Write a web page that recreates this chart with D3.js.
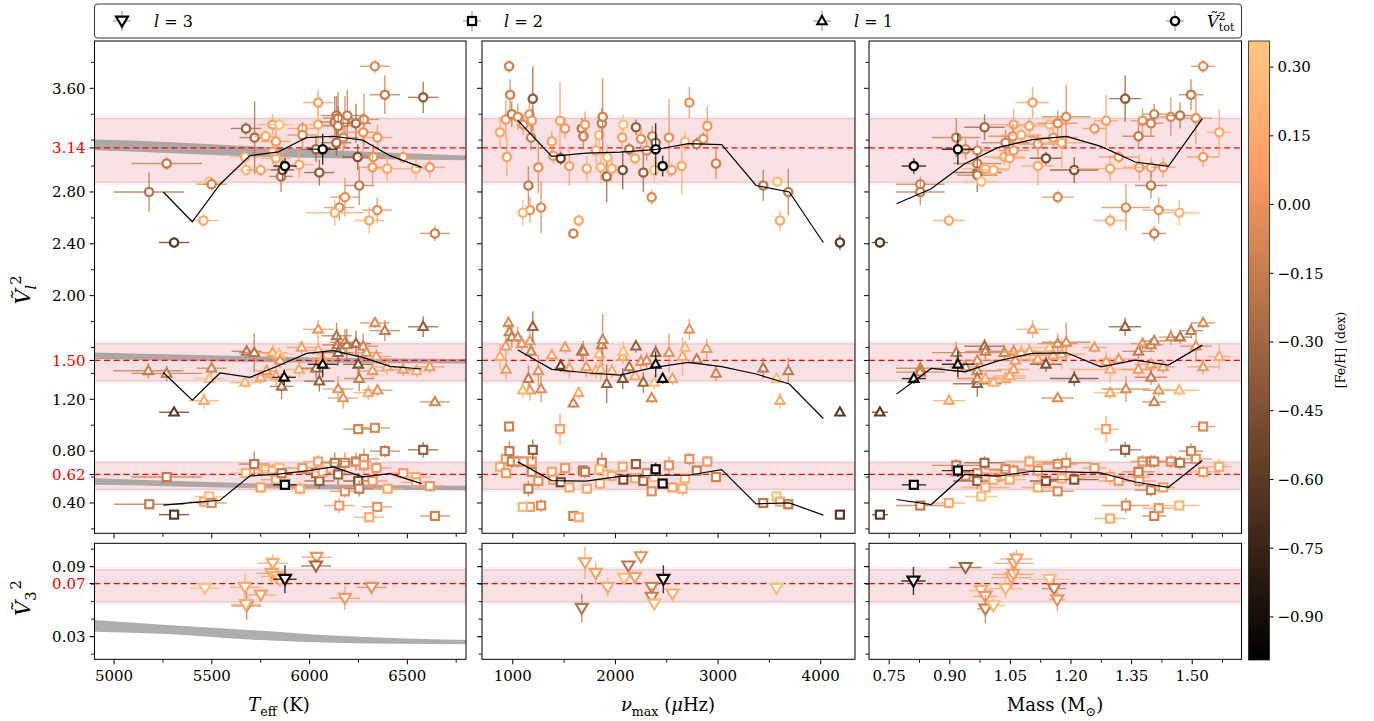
<!DOCTYPE html>
<html><head><meta charset="utf-8">
<script src="https://cdn.jsdelivr.net/npm/d3@7"></script>
<style>body{margin:0;background:#fff}svg{display:block;background:#fff}</style>
</head><body><svg id="chart" width="1374" height="721"></svg>
<script>
// ---------------- DATA ----------------
// rows: [x, V^2, xerr, yerr, [Fe/H]]
const teffTot = [
[5179,2.80,180,0.15,-0.2],[5269,3.02,180,0.05,-0.15],[5307,2.41,77,0.04,-0.6],[5457,2.58,77,0.05,0.15],
[5487,2.88,77,0.03,0.3],[5499,2.86,77,0.05,-0.1],[5670,3.07,77,0.05,0.2],[5675,3.29,77,0.05,-0.3],
[5675,2.97,77,0.05,0.25],[5719,3.22,77,0.28,-0.25],[5750,2.97,77,0.05,0.1],[5775,3.23,60,0.05,0.15],
[5811,3.32,77,0.08,0.1],[5845,3.32,77,0.05,0.3],[5828,3.19,77,0.1,0.05],[5811,3.11,77,0.1,0.1],
[5828,3.06,77,0.08,0.15],[5854,2.92,60,0.12,-0.2],[5862,2.97,60,0.08,-0.5],[5947,3.01,77,0.1,0.15],
[5964,3.29,77,0.05,0.05],[5964,3.24,77,0.1,-0.05],[6044,3.49,77,0.1,0.1],[6044,3.32,77,0.15,0.15],
[6033,3.13,77,0.1,-0.3],[6050,2.95,77,0.1,-0.35],[6129,3.34,77,0.2,-0.2],[6138,3.39,77,0.15,-0.2],
[6146,3.37,77,0.2,-0.15],[6146,3.31,77,0.15,-0.2],[6137,3.18,77,0.1,-0.3],[6181,3.34,77,0.2,-0.1],
[6193,3.39,77,0.2,-0.15],[6172,3.22,77,0.15,-0.05],[6237,3.33,77,0.15,-0.3],[6278,3.36,77,0.2,-0.1],
[6274,3.26,77,0.15,0.0],[6246,3.07,77,0.1,-0.45],[6254,2.85,77,0.15,-0.15],[6326,3.07,77,0.1,0.0],
[6322,2.99,77,0.15,0.05],[6347,3.22,77,0.1,0.05],[6334,3.77,77,0.05,-0.05],[6385,3.55,77,0.15,-0.15],
[6181,2.76,77,0.15,0.0],[6152,2.68,77,0.1,-0.05],[6129,2.64,150,0.1,0.2],[6346,2.66,77,0.1,0.0],
[6305,2.58,77,0.1,0.15],[6397,2.98,77,0.1,0.15],[6479,3.07,77,0.05,0.05],[6544,2.98,77,0.08,0.2],
[6615,2.99,77,0.08,0.05],[6581,3.53,77,0.12,-0.35],[6641,2.48,77,0.06,-0.1],
[5874,3.00,60,0.06,-0.95],[6067,3.13,77,0.12,-0.95]];
const teffL1 = [
[5175,1.42,180,0.06,-0.15],[5269,1.40,180,0.06,-0.15],[5307,1.10,77,0.02,-0.6],[5460,1.19,77,0.06,0.15],
[5487,1.36,77,0.03,0.3],[5499,1.44,77,0.05,-0.1],[5670,1.33,77,0.04,0.2],[5678,1.57,77,0.05,-0.2],
[5717,1.56,77,0.15,-0.2],[5750,1.37,77,0.05,0.1],[5780,1.42,60,0.05,0.05],[5811,1.56,77,0.06,0.1],
[5845,1.55,77,0.04,0.3],[5828,1.38,77,0.08,0.1],[5849,1.50,77,0.06,0.0],[5857,1.30,60,0.1,-0.25],
[5947,1.43,77,0.06,0.15],[5959,1.60,77,0.05,0.05],[6044,1.74,77,0.07,0.05],[6044,1.58,77,0.1,0.15],
[6033,1.44,77,0.08,-0.3],[6050,1.34,77,0.08,-0.35],[6067,1.51,77,0.06,0.1],[6138,1.69,77,0.1,-0.2],
[6142,1.62,77,0.12,-0.2],[6146,1.56,77,0.1,-0.3],[6181,1.64,77,0.1,-0.1],[6190,1.62,77,0.12,-0.15],
[6146,1.28,77,0.1,0.0],[6172,1.21,77,0.08,0.0],[6237,1.63,77,0.1,-0.3],[6274,1.61,77,0.1,-0.1],
[6249,1.47,77,0.08,-0.45],[6254,1.36,77,0.1,-0.15],[6291,1.56,77,0.08,0.0],[6300,1.25,77,0.06,0.15],
[6322,1.42,77,0.06,0.05],[6334,1.79,77,0.04,-0.05],[6342,1.53,77,0.06,0.05],[6347,1.27,77,0.05,0.0],
[6385,1.73,77,0.08,-0.15],[6397,1.45,77,0.06,0.15],[6479,1.43,77,0.05,0.05],[6547,1.42,77,0.05,0.2],
[6581,1.76,77,0.08,-0.35],[6615,1.45,77,0.05,0.05],[6641,1.18,77,0.03,-0.1],
[5870,1.37,60,0.06,-0.95],[6067,1.47,77,0.1,-0.95]];
const teffL2 = [
[5180,0.39,180,0.03,-0.15],[5269,0.60,180,0.03,-0.15],[5307,0.31,77,0.02,-0.6],[5460,0.41,77,0.03,0.15],
[5487,0.45,77,0.02,0.3],[5499,0.40,77,0.03,-0.05],[5675,0.63,77,0.04,0.2],[5717,0.70,77,0.1,-0.2],
[5750,0.52,77,0.03,0.1],[5775,0.66,60,0.04,0.15],[5811,0.65,77,0.05,0.1],[5845,0.67,77,0.03,0.3],
[5828,0.58,77,0.05,0.05],[5857,0.63,60,0.04,-0.15],[5951,0.51,77,0.05,0.15],[5964,0.67,77,0.04,0.05],
[6044,0.72,77,0.05,0.1],[6050,0.57,77,0.06,-0.35],[6033,0.63,77,0.05,-0.25],[6067,0.64,77,0.04,0.1],
[6129,0.71,77,0.08,-0.2],[6146,0.62,77,0.08,-0.3],[6152,0.38,77,0.06,0.05],[6181,0.71,77,0.08,-0.1],
[6181,0.49,77,0.05,0.0],[6237,0.72,77,0.07,-0.15],[6249,0.57,77,0.06,-0.45],[6254,0.51,77,0.06,-0.15],
[6249,0.97,77,0.04,-0.1],[6278,0.74,77,0.08,-0.1],[6278,0.69,77,0.06,0.05],[6322,0.57,77,0.05,0.05],
[6334,0.98,77,0.03,-0.05],[6342,0.67,77,0.05,0.05],[6346,0.37,77,0.04,0.0],[6305,0.29,77,0.03,0.15],
[6385,0.80,77,0.05,-0.15],[6399,0.51,77,0.04,0.15],[6479,0.63,77,0.04,0.05],[6544,0.60,77,0.04,0.2],
[6544,0.56,77,0.04,0.15],[6581,0.81,77,0.06,-0.35],[6615,0.53,77,0.04,0.05],[6641,0.30,77,0.02,-0.1],
[5874,0.54,60,0.03,-0.95]];
const teffL3 = [
[5465,0.0715,77,0.006,0.3],[5670,0.0723,77,0.012,0.15],[5678,0.0563,77,0.012,-0.1],[5675,0.0575,77,0.005,0.2],
[5750,0.0657,77,0.004,0.1],[5811,0.0929,77,0.008,0.15],[5806,0.0843,77,0.008,0.1],[5830,0.0815,77,0.006,0.15],
[5849,0.0786,60,0.006,0.25],[6036,0.0980,77,0.004,0.05],[6033,0.0906,77,0.006,-0.3],[6181,0.0629,77,0.010,0.05],
[6317,0.0723,77,0.005,0.0],[5874,0.0792,60,0.012,-0.95]];

const numaxTot = [
[876,3.26,20,0.12,0.15],[932,3.36,20,0.15,0.05],[942,3.07,20,0.15,0.1],[964,3.77,20,0.05,-0.1],
[974,3.55,20,0.12,-0.1],[990,3.40,20,0.1,-0.15],[1049,3.38,20,0.1,-0.05],[1103,3.32,20,0.08,0.0],
[1162,3.40,20,0.1,0.05],[1195,3.52,20,0.25,-0.35],[1185,3.35,20,0.1,0.05],[1178,3.22,20,0.1,-0.1],
[1152,2.85,20,0.15,-0.15],[1168,2.66,20,0.1,0.05],[1097,2.64,20,0.1,0.25],[1249,2.99,20,0.2,0.0],
[1276,2.68,20,0.2,-0.05],[1380,3.19,20,0.08,0.1],[1395,3.08,20,0.06,0.05],[1460,3.35,20,0.3,0.1],
[1467,3.06,20,0.05,-0.5],[1509,3.29,20,0.08,0.05],[1551,3.00,20,0.15,0.1],[1590,2.48,20,0.04,-0.1],
[1642,2.58,20,0.05,0.15],[1672,3.29,20,0.08,-0.2],[1688,3.23,20,0.1,-0.15],[1704,3.32,20,0.1,0.05],
[1721,2.98,20,0.1,0.15],[1811,3.12,20,0.1,0.15],[1843,3.24,20,0.15,0.25],[1857,2.99,20,0.12,0.2],
[1867,3.33,20,0.12,-0.15],[1876,3.38,20,0.3,-0.1],[1915,2.92,20,0.2,-0.3],[1921,3.07,20,0.1,0.25],
[1964,2.98,20,0.1,0.15],[2067,3.22,20,0.08,0.1],[2077,3.32,20,0.08,0.3],[2071,2.97,20,0.15,-0.45],
[2135,3.13,20,0.05,-0.2],[2191,3.06,20,0.05,0.15],[2200,3.30,20,0.06,-0.35],[2249,3.21,20,0.1,0.0],
[2272,2.95,20,0.15,-0.3],[2305,3.12,20,0.08,-0.05],[2353,2.76,20,0.06,-0.05],[2359,3.23,20,0.08,-0.1],
[2379,2.97,20,0.1,0.3],[2392,3.18,20,0.06,-0.3],[2522,3.22,20,0.3,0.0],[2548,2.97,20,0.05,0.1],
[2646,3.00,20,0.22,0.15],[2678,3.19,20,0.08,0.25],[2720,3.49,20,0.12,0.0],[2792,3.17,20,0.05,-0.15],
[2856,3.21,20,0.05,0.0],[2895,3.31,20,0.15,0.05],[2980,3.02,20,0.12,-0.1],[3440,2.85,20,0.12,-0.2],
[3577,2.88,20,0.03,0.3],[3684,2.80,20,0.18,-0.15],[3603,2.58,20,0.08,0.15],[4187,2.41,20,0.06,-0.6],
[2392,3.13,20,0.2,-0.95],[2460,3.00,20,0.08,-0.95]];
const numaxL1 = [
[876,1.53,20,0.1,0.15],[935,1.43,20,0.08,0.05],[932,1.61,20,0.1,0.05],[957,1.79,20,0.05,-0.05],
[967,1.72,20,0.06,-0.1],[990,1.68,20,0.08,-0.15],[1049,1.68,20,0.08,-0.05],[1088,1.63,20,0.06,0.0],
[1168,1.65,20,0.08,0.05],[1178,1.57,20,0.06,-0.1],[1195,1.76,20,0.12,-0.35],[1152,1.36,20,0.1,-0.15],
[1168,1.27,20,0.08,0.05],[1097,1.27,20,0.06,0.25],[1249,1.42,20,0.12,0.0],[1276,1.28,20,0.1,-0.05],
[1380,1.54,20,0.05,0.1],[1467,1.46,20,0.05,-0.5],[1509,1.60,20,0.05,0.05],[1551,1.44,20,0.08,0.1],
[1590,1.17,20,0.04,-0.1],[1642,1.25,20,0.05,0.15],[1672,1.57,20,0.06,-0.2],[1688,1.57,20,0.08,-0.15],
[1716,1.45,20,0.08,0.05],[1811,1.42,20,0.06,0.15],[1843,1.55,20,0.1,0.25],[1857,1.43,20,0.08,0.2],
[1867,1.62,20,0.08,-0.15],[1876,1.66,20,0.2,-0.1],[1915,1.32,20,0.15,-0.3],[1964,1.42,20,0.06,0.15],
[2071,1.53,20,0.06,0.1],[2077,1.57,20,0.08,0.3],[2071,1.36,20,0.08,-0.45],[2135,1.45,20,0.05,-0.2],
[2191,1.38,20,0.04,0.15],[2200,1.61,20,0.05,-0.35],[2249,1.49,20,0.06,0.0],[2272,1.33,20,0.08,-0.3],
[2305,1.50,20,0.06,-0.05],[2353,1.21,20,0.04,-0.05],[2379,1.33,20,0.06,0.3],[2392,1.56,20,0.06,-0.3],
[2522,1.56,20,0.15,0.0],[2556,1.36,20,0.05,0.1],[2653,1.53,20,0.15,0.15],[2678,1.60,20,0.05,0.25],
[2720,1.74,20,0.08,0.0],[2792,1.51,20,0.04,-0.15],[2889,1.59,20,0.08,0.05],[2980,1.40,20,0.06,-0.1],
[3440,1.44,20,0.08,-0.2],[3570,1.36,20,0.03,0.3],[3684,1.42,20,0.1,-0.15],[3603,1.19,20,0.06,0.15],
[4187,1.10,20,0.03,-0.6],[2392,1.47,20,0.1,-0.95],[2460,1.36,20,0.04,-0.95]];
const numaxL2 = [
[876,0.68,20,0.04,0.15],[935,0.63,20,0.04,0.05],[932,0.74,20,0.06,0.05],[964,0.99,20,0.03,-0.1],
[967,0.80,20,0.08,-0.15],[990,0.72,20,0.05,-0.15],[1049,0.72,20,0.05,-0.05],[1103,0.72,20,0.04,0.0],
[1185,0.72,20,0.04,0.05],[1195,0.81,20,0.08,-0.35],[1185,0.64,20,0.04,-0.1],[1152,0.51,20,0.06,-0.15],
[1168,0.37,20,0.03,0.05],[1097,0.37,20,0.03,0.25],[1249,0.57,20,0.06,0.0],[1276,0.38,20,0.05,-0.05],
[1380,0.64,20,0.04,0.1],[1395,0.58,20,0.04,0.05],[1460,0.97,20,0.12,0.1],[1467,0.56,20,0.03,-0.5],
[1509,0.67,20,0.04,0.05],[1551,0.52,20,0.04,0.1],[1590,0.30,20,0.02,-0.1],[1642,0.29,20,0.02,0.15],
[1682,0.65,20,0.04,-0.2],[1704,0.64,20,0.05,-0.15],[1721,0.51,20,0.04,0.15],[1850,0.55,20,0.04,0.2],
[1867,0.71,20,0.08,-0.15],[1843,0.66,20,0.05,0.25],[1921,0.62,20,0.04,0.25],[1964,0.61,20,0.05,0.15],
[2071,0.68,20,0.04,0.1],[2077,0.58,20,0.04,-0.45],[2191,0.59,20,0.03,0.15],[2200,0.70,20,0.04,-0.35],
[2272,0.57,20,0.04,-0.3],[2305,0.63,20,0.04,-0.05],[2353,0.49,20,0.03,-0.05],[2379,0.60,20,0.04,0.3],
[2522,0.69,20,0.07,0.0],[2556,0.52,20,0.03,0.1],[2653,0.51,20,0.06,0.15],[2678,0.59,20,0.04,0.25],
[2720,0.74,20,0.05,0.0],[2792,0.65,20,0.03,-0.15],[2895,0.72,20,0.04,0.05],[2980,0.60,20,0.04,-0.1],
[3440,0.40,20,0.03,-0.2],[3570,0.45,20,0.02,0.3],[3603,0.41,20,0.03,0.15],[3684,0.39,20,0.04,-0.15],
[4187,0.31,20,0.02,-0.6],[2392,0.66,20,0.05,-0.95],[2460,0.55,20,0.03,-0.95]];
const numaxL3 = [
[1672,0.0543,20,0.012,-0.2],[1704,0.0934,20,0.014,0.1],[1808,0.0843,20,0.010,0.1],[1925,0.0723,20,0.008,0.15],
[2087,0.0800,20,0.004,0.3],[2126,0.0906,20,0.004,-0.2],[2191,0.0809,20,0.004,0.1],[2249,0.0986,20,0.006,0.0],
[2353,0.0723,20,0.004,-0.1],[2353,0.0638,20,0.008,-0.15],[2379,0.0580,20,0.006,0.25],[2556,0.0666,20,0.004,0.15],
[3570,0.0715,20,0.006,0.3],[2467,0.0792,20,0.012,-0.95]];

const massTot = [
[0.727,2.41,0.02,0.04,-0.6],[0.827,2.86,0.06,0.06,-0.1],[0.827,2.80,0.06,0.1,-0.15],[0.898,2.58,0.04,0.05,0.15],
[0.916,3.22,0.06,0.15,-0.15],[0.939,3.13,0.04,0.08,-0.05],[0.968,3.12,0.04,0.08,-0.05],[0.968,3.02,0.06,0.06,-0.1],
[0.968,2.95,0.06,0.15,-0.35],[0.968,2.93,0.05,0.06,-0.2],[0.978,2.88,0.04,0.04,0.3],[0.986,3.30,0.05,0.1,-0.3],
[0.988,2.98,0.06,0.05,0.15],[1.008,2.97,0.04,0.05,0.2],[1.035,3.07,0.05,0.06,0.15],[1.038,3.18,0.06,0.1,-0.1],
[1.048,3.06,0.04,0.08,0.15],[1.058,3.32,0.06,0.12,0.1],[1.056,3.23,0.06,0.1,-0.05],[1.058,3.12,0.04,0.06,0.05],
[1.077,3.24,0.05,0.06,0.15],[1.097,3.31,0.06,0.06,0.1],[1.105,3.49,0.04,0.12,0.1],[1.118,3.17,0.05,0.08,0.0],
[1.118,3.00,0.04,0.15,0.15],[1.138,3.06,0.04,0.05,-0.45],[1.147,3.32,0.05,0.06,0.3],[1.156,3.22,0.06,0.08,0.05],
[1.167,3.33,0.05,0.1,-0.05],[1.167,2.76,0.04,0.05,-0.05],[1.177,3.18,0.06,0.2,0.15],[1.188,3.38,0.06,0.25,-0.05],
[1.208,2.97,0.06,0.1,-0.45],[1.258,3.29,0.03,0.05,0.05],[1.287,3.35,0.03,0.2,0.1],[1.297,2.98,0.1,0.1,0.15],
[1.297,2.58,0.04,0.06,0.15],[1.318,3.07,0.05,0.05,0.05],[1.334,3.52,0.04,0.18,-0.35],[1.336,2.68,0.06,0.18,-0.05],
[1.367,3.23,0.04,0.1,-0.15],[1.369,2.99,0.04,0.1,0.05],[1.377,3.35,0.03,0.1,0.0],[1.398,3.33,0.03,0.1,-0.1],
[1.398,2.99,0.04,0.08,0.1],[1.398,2.85,0.04,0.1,-0.15],[1.406,3.40,0.03,0.08,-0.1],[1.406,2.48,0.03,0.06,-0.1],
[1.417,2.66,0.04,0.1,0.0],[1.428,2.99,0.03,0.08,0.05],[1.447,3.38,0.03,0.15,-0.05],[1.468,2.64,0.05,0.1,0.25],
[1.470,3.39,0.03,0.1,-0.2],[1.497,3.55,0.03,0.12,-0.15],[1.509,3.37,0.04,0.2,0.0],[1.527,3.77,0.03,0.05,-0.05],
[1.527,3.07,0.04,0.08,0.05],[1.567,3.26,0.03,0.18,0.15],
[0.811,3.00,0.03,0.06,-0.95],[0.920,3.13,0.04,0.12,-0.95]];
const massL1 = [
[0.727,1.10,0.02,0.02,-0.6],[0.827,1.44,0.06,0.04,-0.1],[0.827,1.41,0.06,0.05,-0.15],[0.898,1.19,0.04,0.03,0.15],
[0.916,1.56,0.06,0.08,-0.15],[0.939,1.45,0.04,0.05,-0.05],[0.968,1.50,0.04,0.05,-0.05],[0.968,1.42,0.06,0.05,-0.1],
[0.968,1.32,0.06,0.1,-0.35],[0.968,1.36,0.05,0.05,-0.2],[0.986,1.61,0.05,0.06,-0.3],[0.988,1.57,0.05,0.06,-0.15],
[0.988,1.36,0.06,0.04,0.15],[1.008,1.33,0.04,0.04,0.2],[1.035,1.56,0.05,0.06,-0.1],[1.038,1.36,0.05,0.05,0.15],
[1.048,1.38,0.04,0.06,0.15],[1.058,1.57,0.06,0.06,-0.05],[1.058,1.43,0.04,0.05,0.1],[1.062,1.50,0.05,0.06,0.05],
[1.077,1.56,0.05,0.06,0.15],[1.097,1.57,0.06,0.06,0.1],[1.105,1.74,0.04,0.07,0.1],[1.118,1.51,0.05,0.06,0.1],
[1.138,1.47,0.04,0.06,-0.45],[1.147,1.60,0.05,0.06,0.3],[1.156,1.54,0.06,0.06,0.05],[1.167,1.63,0.05,0.08,-0.05],
[1.167,1.21,0.04,0.03,-0.05],[1.177,1.55,0.06,0.12,0.15],[1.188,1.64,0.06,0.15,-0.05],[1.208,1.36,0.06,0.06,-0.45],
[1.258,1.60,0.03,0.04,0.05],[1.287,1.49,0.03,0.08,0.1],[1.297,1.43,0.1,0.1,0.15],[1.297,1.25,0.04,0.05,0.15],
[1.318,1.51,0.05,0.04,0.05],[1.334,1.76,0.04,0.07,-0.35],[1.336,1.28,0.06,0.1,-0.05],[1.367,1.57,0.04,0.06,-0.15],
[1.367,1.43,0.04,0.06,0.05],[1.377,1.63,0.03,0.05,0.0],[1.398,1.62,0.03,0.05,-0.1],[1.398,1.47,0.04,0.05,0.1],
[1.398,1.37,0.04,0.06,-0.15],[1.406,1.65,0.03,0.05,-0.1],[1.406,1.18,0.03,0.03,-0.1],[1.417,1.27,0.04,0.05,0.0],
[1.428,1.45,0.03,0.05,0.05],[1.447,1.68,0.03,0.06,-0.05],[1.468,1.27,0.05,0.05,0.25],[1.470,1.68,0.03,0.05,-0.2],
[1.497,1.73,0.03,0.06,-0.15],[1.509,1.61,0.04,0.12,0.0],[1.527,1.79,0.03,0.04,-0.05],[1.527,1.45,0.04,0.06,0.05],
[1.567,1.53,0.03,0.1,0.15],
[0.811,1.36,0.03,0.04,-0.95],[0.920,1.47,0.04,0.1,-0.95]];
const massL2 = [
[0.727,0.31,0.02,0.02,-0.6],[0.827,0.38,0.06,0.03,-0.15],[0.898,0.40,0.04,0.03,0.15],[0.916,0.69,0.06,0.05,-0.15],
[0.939,0.61,0.04,0.04,-0.05],[0.968,0.63,0.05,0.04,-0.05],[0.968,0.57,0.06,0.06,-0.35],[0.986,0.71,0.05,0.05,-0.3],
[0.988,0.52,0.06,0.04,0.15],[0.978,0.45,0.04,0.02,0.3],[1.008,0.58,0.04,0.04,0.2],[1.035,0.61,0.05,0.04,0.15],
[1.038,0.66,0.05,0.05,-0.1],[1.048,0.58,0.04,0.04,0.15],[1.058,0.65,0.06,0.05,-0.05],[1.097,0.72,0.06,0.05,0.1],
[1.118,0.65,0.05,0.05,0.0],[1.118,0.52,0.04,0.04,0.15],[1.138,0.57,0.04,0.04,-0.45],[1.167,0.49,0.04,0.03,-0.05],
[1.167,0.70,0.05,0.05,-0.05],[1.177,0.59,0.06,0.05,0.15],[1.188,0.71,0.06,0.08,-0.05],[1.208,0.58,0.06,0.04,-0.45],
[1.258,0.67,0.03,0.04,0.05],[1.287,0.97,0.03,0.1,0.1],[1.297,0.60,0.1,0.06,0.15],[1.297,0.28,0.04,0.03,0.15],
[1.318,0.57,0.05,0.04,0.05],[1.334,0.81,0.04,0.06,-0.35],[1.336,0.38,0.06,0.06,-0.05],[1.367,0.64,0.04,0.05,-0.15],
[1.369,0.57,0.04,0.05,0.05],[1.377,0.72,0.03,0.05,0.0],[1.398,0.72,0.03,0.05,-0.1],[1.398,0.50,0.04,0.05,-0.15],
[1.406,0.72,0.03,0.05,-0.1],[1.406,0.30,0.03,0.02,-0.1],[1.417,0.36,0.04,0.04,0.0],[1.428,0.52,0.03,0.04,0.05],
[1.447,0.72,0.03,0.05,-0.05],[1.468,0.38,0.05,0.03,0.25],[1.470,0.71,0.03,0.05,-0.2],[1.497,0.80,0.03,0.06,-0.15],
[1.509,0.74,0.04,0.06,0.0],[1.527,0.99,0.03,0.03,-0.05],[1.527,0.64,0.04,0.05,0.05],[1.567,0.68,0.03,0.06,0.15],
[0.811,0.54,0.03,0.03,-0.95],[0.920,0.65,0.04,0.05,-0.95]];
const massL3 = [
[0.939,0.0893,0.04,0.005,-0.3],[0.977,0.0695,0.03,0.006,0.2],[0.988,0.0645,0.03,0.006,0.05],[0.988,0.0537,0.02,0.012,-0.15],
[1.008,0.0566,0.03,0.006,0.25],[1.038,0.0712,0.04,0.008,0.2],[1.053,0.0806,0.05,0.010,0.1],[1.057,0.0835,0.05,0.008,0.1],
[1.059,0.0928,0.05,0.010,0.05],[1.065,0.0966,0.04,0.008,0.1],[1.147,0.0791,0.05,0.006,0.3],[1.158,0.0712,0.03,0.008,-0.15],
[1.166,0.0616,0.02,0.010,0.0],[0.810,0.0777,0.03,0.012,-0.95]];

// running medians (black lines)
const teffBins  = [5252,5400,5542,5695,5840,5985,6121,6272,6411,6573];
const teffTrendTot = [2.80,2.57,2.86,3.08,3.11,3.22,3.23,3.20,3.08,2.99];
const teffTrendL1  = [1.407,1.194,1.403,1.369,1.459,1.554,1.575,1.523,1.454,1.434];
const teffTrendL2  = [0.383,0.403,0.421,0.609,0.622,0.647,0.678,0.601,0.626,0.549];
const numaxBins = [1049,1380,1714,2045,2379,2710,3035,3370,3694,4025];
const numaxTrendTot = [3.353,3.075,3.10,3.108,3.126,3.173,3.165,2.85,2.80,2.41];
const numaxTrendL1  = [1.581,1.431,1.405,1.387,1.446,1.485,1.452,1.395,1.318,1.052];
const numaxTrendL2  = [0.717,0.573,0.568,0.606,0.614,0.614,0.658,0.393,0.401,0.306];
const massBins = [0.768,0.854,0.937,1.019,1.104,1.189,1.274,1.359,1.441,1.525];
const massTrendTot = [2.709,2.825,3.018,3.142,3.204,3.229,3.152,3.031,2.997,3.366];
const massTrendL1  = [1.240,1.438,1.412,1.497,1.554,1.559,1.451,1.503,1.464,1.618];
const massTrendL2  = [0.427,0.388,0.620,0.607,0.645,0.640,0.632,0.562,0.521,0.728];

// mean values and 1-sigma bands
const meanTot = 3.14, bandTot = [2.876, 3.366];
const meanL1 = 1.50,  bandL1 = [1.343, 1.627];
const meanL2 = 0.62,  bandL2 = [0.506, 0.712];
const meanL3 = 0.0755, bandL3 = [0.060, 0.0872];

// model predictions (grey bands, Teff panels)
const modelTeff  = [4900, 5269, 5695, 6121, 6800];
const modelTotLo = [3.121, 3.100, 3.074, 3.061, 3.044];
const modelTotHi = [3.204, 3.185, 3.152, 3.121, 3.082];
const modelL1Lo  = [1.511, 1.500, 1.488, 1.482, 1.477];
const modelL1Hi  = [1.562, 1.548, 1.532, 1.520, 1.511];
const modelL2Lo  = [0.540, 0.530, 0.516, 0.508, 0.499];
const modelL2Hi  = [0.591, 0.572, 0.553, 0.542, 0.532];
const modelL3Lo  = [0.0343, 0.0323, 0.0275, 0.0248, 0.0235];
const modelL3Hi  = [0.0443, 0.0400, 0.0358, 0.0310, 0.0272];

// ticks
const topTickLabels = [3.60, 3.14, 2.80, 2.40, 2.00, 1.50, 1.20, 0.80, 0.62, 0.40];
const topRedTicks = [3.14, 1.50, 0.62];
const topMinor = d3.range(1, 20).map(i => i * 0.2);
const botTickLabels = [0.09, 0.03];
const botMinor = d3.range(1, 8).map(i => i * 0.015);
const botRedLabel = "0.07";
const teffTicks = [5000, 5500, 6000, 6500];
const teffMinor = [5250, 5750, 6250, 6750];
const numaxTicks = [1000, 2000, 3000, 4000];
const numaxMinor = [1500, 2500, 3500];
const massTicks = [0.75, 0.90, 1.05, 1.20, 1.35, 1.50];
const massMinor = [0.825, 0.975, 1.125, 1.275, 1.425, 1.575];
const fehTicks = [0.30, 0.15, 0.00, -0.15, -0.30, -0.45, -0.60, -0.75, -0.90];
const fehRange = [-0.994, 0.357];

// ---------------- DRAWING ----------------
const FONT = "'DejaVu Serif', serif";
const svg = d3.select('#chart');
const defs = svg.append('defs');

function copper(f) {
  const t = Math.max(0, Math.min(1, (f - fehRange[0]) / (fehRange[1] - fehRange[0])));
  return d3.rgb(Math.min(1, t / 0.809524) * 255, 0.7812 * t * 255, 0.4975 * t * 255).formatHex();
}

const rowsY = { top: [41, 533.3], bot: [543.3, 659.3] };
const yTop = d3.scaleLinear().domain([0.166, 3.965]).range([533.3, 41]);
const yBot = d3.scaleLinear().domain([0.0106, 0.110]).range([659.3, 543.3]);

const cols = [
  { key: 'teff', x: d3.scaleLinear().domain([4900, 6800]).range([94.5, 466]), ticks: teffTicks, minor: teffMinor, fmt: d3.format('d'),
    tot: teffTot, l1: teffL1, l2: teffL2, l3: teffL3, bins: teffBins, tr: [teffTrendTot, teffTrendL1, teffTrendL2], model: true },
  { key: 'numax', x: d3.scaleLinear().domain([700, 4334]).range([482, 855]), ticks: numaxTicks, minor: numaxMinor, fmt: d3.format('d'),
    tot: numaxTot, l1: numaxL1, l2: numaxL2, l3: numaxL3, bins: numaxBins, tr: [numaxTrendTot, numaxTrendL1, numaxTrendL2], model: false },
  { key: 'mass', x: d3.scaleLinear().domain([0.70, 1.622]).range([869, 1241.5]), ticks: massTicks, minor: massMinor, fmt: d3.format('.2f'),
    tot: massTot, l1: massL1, l2: massL2, l3: massL3, bins: massBins, tr: [massTrendTot, massTrendL1, massTrendL2], model: false }
];

const markerPaths = {
  '^': 'M0,-5L4.7,3.3L-4.7,3.3Z',
  v: 'M0,5.6L6,-4.4L-6,-4.4Z'
};
function drawMarker(g, shape, cx, cy, col) {
  if (shape === 'o') {
    g.append('circle').attr('cx', cx).attr('cy', cy).attr('r', 4.1).attr('fill', '#fff').attr('stroke', col).attr('stroke-width', 2.4);
  } else if (shape === 's') {
    g.append('rect').attr('x', cx - 4).attr('y', cy - 4).attr('width', 8).attr('height', 8).attr('fill', '#fff').attr('stroke', col).attr('stroke-width', 2.2);
  } else {
    g.append('path').attr('d', markerPaths[shape]).attr('transform', `translate(${cx},${cy})`).attr('fill', '#fff').attr('stroke', col).attr('stroke-width', 2.1).attr('stroke-linejoin', 'miter');
  }
}
function drawPoints(g, xs, ys, data, shape) {
  data.forEach(d => {
    const col = copper(d[4]);
    const eg = g.append('g').attr('stroke', col).attr('stroke-width', 1.4).attr('opacity', 0.8);
    eg.append('line').attr('x1', xs(d[0] - d[2])).attr('x2', xs(d[0] + d[2])).attr('y1', ys(d[1])).attr('y2', ys(d[1]));
    eg.append('line').attr('x1', xs(d[0])).attr('x2', xs(d[0])).attr('y1', ys(d[1] - d[3])).attr('y2', ys(d[1] + d[3]));
    drawMarker(g, shape, xs(d[0]), ys(d[1]), col);
  });
}
function band(g, xs, ys, b) {
  const [x0, x1] = xs.range();
  g.append('rect').attr('x', x0).attr('width', x1 - x0).attr('y', ys(b[1]) - 3).attr('height', ys(b[0]) - ys(b[1]) + 6)
    .attr('fill', '#f3d6da').attr('opacity', 0.35);
  g.append('rect').attr('x', x0).attr('width', x1 - x0).attr('y', ys(b[1])).attr('height', ys(b[0]) - ys(b[1]))
    .attr('fill', '#fbe1e4').attr('stroke', '#e2cfd2').attr('stroke-width', 1.5);
}
function meanLine(g, xs, ys, v) {
  const [x0, x1] = xs.range();
  g.append('line').attr('x1', x0).attr('x2', x1).attr('y1', ys(v)).attr('y2', ys(v))
    .attr('stroke', '#ff0000').attr('stroke-width', 1.3).attr('stroke-dasharray', '6,3.6');
}
function modelBand(g, xs, ys, lo, hi) {
  const area = d3.area().x((d, i) => xs(modelTeff[i])).y0((d, i) => ys(lo[i])).y1((d, i) => ys(hi[i])).curve(d3.curveMonotoneX);
  g.append('path').attr('d', area(modelTeff)).attr('fill', '#8f8f8f').attr('opacity', 0.72);
}
function trend(g, xs, ys, bins, vals) {
  const line = d3.line().x((d, i) => xs(bins[i])).y(d => ys(d));
  g.append('path').attr('d', line(vals)).attr('fill', 'none').attr('stroke', '#000').attr('stroke-width', 1.2);
}

let clipId = 0;
function makeClip(x0, x1, y0, y1) {
  const id = 'clip' + (clipId++);
  defs.append('clipPath').attr('id', id).append('rect').attr('x', x0).attr('y', y0).attr('width', x1 - x0).attr('height', y1 - y0);
  return id;
}

cols.forEach((c, ci) => {
  const xs = c.x;
  const [x0, x1] = xs.range();
  {
    const [y1, y0] = yTop.range();
    const g = svg.append('g').attr('clip-path', `url(#${makeClip(x0, x1, y0, y1)})`);
    band(g, xs, yTop, bandTot); band(g, xs, yTop, bandL1); band(g, xs, yTop, bandL2);
    if (c.model) {
      modelBand(g, xs, yTop, modelTotLo, modelTotHi);
      modelBand(g, xs, yTop, modelL1Lo, modelL1Hi);
      modelBand(g, xs, yTop, modelL2Lo, modelL2Hi);
    }
    meanLine(g, xs, yTop, meanTot); meanLine(g, xs, yTop, meanL1); meanLine(g, xs, yTop, meanL2);
    drawPoints(g, xs, yTop, c.tot, 'o');
    drawPoints(g, xs, yTop, c.l1, '^');
    drawPoints(g, xs, yTop, c.l2, 's');
    trend(g, xs, yTop, c.bins, c.tr[0]);
    trend(g, xs, yTop, c.bins, c.tr[1]);
    trend(g, xs, yTop, c.bins, c.tr[2]);
  }
  {
    const [y1, y0] = yBot.range();
    const g = svg.append('g').attr('clip-path', `url(#${makeClip(x0, x1, y0, y1)})`);
    band(g, xs, yBot, bandL3);
    if (c.model) modelBand(g, xs, yBot, modelL3Lo, modelL3Hi);
    meanLine(g, xs, yBot, meanL3);
    drawPoints(g, xs, yBot, c.l3, 'v');
  }
  [[yTop, rowsY.top], [yBot, rowsY.bot]].forEach(([ys, ry], ri) => {
    const ax = svg.append('g');
    ax.append('rect').attr('x', x0).attr('y', ry[0]).attr('width', x1 - x0).attr('height', ry[1] - ry[0])
      .attr('fill', 'none').attr('stroke', '#000').attr('stroke-width', 1);
    c.ticks.forEach(t => ax.append('line').attr('x1', xs(t)).attr('x2', xs(t)).attr('y1', ry[1]).attr('y2', ry[1] + 5).attr('stroke', '#000').attr('stroke-width', 1));
    c.minor.forEach(t => ax.append('line').attr('x1', xs(t)).attr('x2', xs(t)).attr('y1', ry[1]).attr('y2', ry[1] + 3.5).attr('stroke', '#000').attr('stroke-width', 0.9));
    if (ri === 1) {
      c.ticks.forEach(t => ax.append('text').attr('x', xs(t)).attr('y', ry[1] + 22).attr('text-anchor', 'middle')
        .attr('font-family', FONT).attr('font-size', 15).text(c.fmt(t)));
    }
    const majors = ri === 0 ? topTickLabels : botTickLabels.concat([meanL3]);
    const minors = ri === 0 ? topMinor.filter(m => !topTickLabels.some(t => Math.abs(t - m) < 1e-6)) : botMinor;
    majors.forEach(t => ax.append('line').attr('x1', x0 - 5).attr('x2', x0).attr('y1', ys(t)).attr('y2', ys(t)).attr('stroke', '#000').attr('stroke-width', 1));
    minors.forEach(t => ax.append('line').attr('x1', x0 - 3.5).attr('x2', x0).attr('y1', ys(t)).attr('y2', ys(t)).attr('stroke', '#000').attr('stroke-width', 0.9));
    if (ci === 0) {
      if (ri === 0) {
        topTickLabels.forEach(t => ax.append('text').attr('x', x0 - 9).attr('y', ys(t) + 5.3).attr('text-anchor', 'end')
          .attr('font-family', FONT).attr('font-size', 15).attr('fill', topRedTicks.includes(t) ? '#ff0000' : '#000').text(t.toFixed(2)));
      } else {
        botTickLabels.forEach(t => ax.append('text').attr('x', x0 - 9).attr('y', ys(t) + 5.3).attr('text-anchor', 'end')
          .attr('font-family', FONT).attr('font-size', 15).text(t.toFixed(2)));
        ax.append('text').attr('x', x0 - 9).attr('y', ys(meanL3) + 5.3).attr('text-anchor', 'end')
          .attr('font-family', FONT).attr('font-size', 15).attr('fill', '#ff0000').text(botRedLabel);
      }
    }
  });
});

function rich(sel, parts, base) {
  let cur = 0;
  parts.forEach(p => {
    const shift = p.sub ? base * 0.28 : p.sup ? -base * 0.42 : 0;
    const ts = sel.append('tspan').text(p.t)
      .attr('font-size', (p.sub || p.sup) ? base * 0.7 : base)
      .attr('font-style', p.it ? 'italic' : 'normal')
      .attr('dy', shift - cur);
    if (p.dx !== undefined) ts.attr('dx', p.dx);
    cur = shift;
  });
}
function label(x, y, parts, base, rot) {
  const t = svg.append('text').attr('font-family', FONT).attr('text-anchor', 'middle');
  if (rot) t.attr('transform', `translate(${x},${y}) rotate(${rot})`); else t.attr('x', x).attr('y', y);
  rich(t, parts, base);
  return t;
}
label(279, 711, [{ t: 'T', it: true }, { t: 'eff', sub: true }, { t: ' (K)' }], 18);
label(668, 711, [{ t: 'ν', it: true }, { t: 'max', sub: true }, { t: ' (' }, { t: 'μ', it: true }, { t: 'Hz)' }], 18);
label(1055, 711, [{ t: 'Mass (M' }, { t: '⊙', sub: true }, { t: ')' }], 18);
label(30, 290, [{ t: 'V\u0303', it: true }, { t: 'l', it: true, sub: true }, { t: '2', sup: true }], 21, -90);
label(30, 598, [{ t: 'V\u0303', it: true }, { t: '3', sub: true }, { t: '2', sup: true, dx: 2 }], 21, -90);

const leg = svg.append('g');
leg.append('rect').attr('x', 94.5).attr('y', 4).attr('width', 1241.5 - 94.5).attr('height', 34).attr('rx', 3)
  .attr('fill', '#fff').attr('stroke', '#333').attr('stroke-width', 1);
const legendItems = [
  { shape: 'v', x: 122, parts: [{ t: 'l', it: true }, { t: ' = 3' }] },
  { shape: 's', x: 472, parts: [{ t: 'l', it: true }, { t: ' = 2' }] },
  { shape: '^', x: 822, parts: [{ t: 'l', it: true }, { t: ' = 1' }] },
  { shape: 'o', x: 1175, parts: [{ t: 'V\u0303', it: true }, { t: '2', sup: true }, { t: 'tot', sub: true, dx: -7 }] }
];
legendItems.forEach(it => {
  const cy = 21;
  leg.append('line').attr('x1', it.x - 9).attr('x2', it.x + 9).attr('y1', cy).attr('y2', cy).attr('stroke', '#888').attr('stroke-width', 1);
  leg.append('line').attr('x1', it.x).attr('x2', it.x).attr('y1', cy - 10).attr('y2', cy + 10).attr('stroke', '#888').attr('stroke-width', 1);
  drawMarker(leg, it.shape, it.x, cy, '#000');
  const t = leg.append('text').attr('x', it.x + 32).attr('y', cy + 5.5).attr('font-family', FONT);
  rich(t, it.parts, 16);
});

const cbX0 = 1248.5, cbX1 = 1269.5, cbY0 = 41, cbY1 = 660;
const grad = defs.append('linearGradient').attr('id', 'cbgrad').attr('x1', 0).attr('y1', 1).attr('x2', 0).attr('y2', 0);
d3.range(0, 1.0001, 0.02).forEach(t => grad.append('stop').attr('offset', t)
  .attr('stop-color', copper(fehRange[0] + t * (fehRange[1] - fehRange[0]))));
svg.append('rect').attr('x', cbX0).attr('y', cbY0).attr('width', cbX1 - cbX0).attr('height', cbY1 - cbY0)
  .attr('fill', 'url(#cbgrad)').attr('stroke', '#222').attr('stroke-width', 0.8);
const cbScale = d3.scaleLinear().domain(fehRange).range([cbY1, cbY0]);
fehTicks.forEach(v => {
  svg.append('line').attr('x1', cbX1).attr('x2', cbX1 + 4).attr('y1', cbScale(v)).attr('y2', cbScale(v)).attr('stroke', '#000');
  svg.append('text').attr('x', cbX1 + 8).attr('y', cbScale(v) + 5.3).attr('font-family', FONT).attr('font-size', 15)
    .text((v < 0 ? '\u2212' : '') + Math.abs(v).toFixed(2));
});
svg.append('text').attr('transform', `translate(1345,350) rotate(-90)`).attr('text-anchor', 'middle')
  .attr('font-family', FONT).attr('font-size', 12.5).text('[Fe/H] (dex)');
</script></body></html>
